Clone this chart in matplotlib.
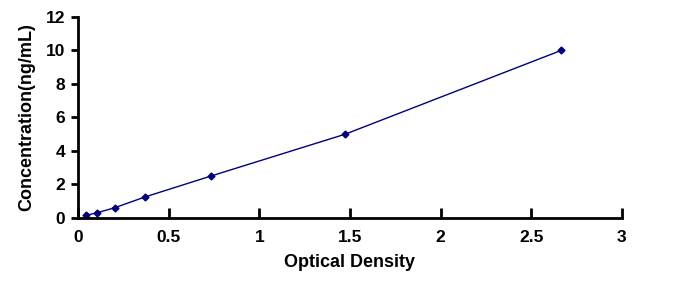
import numpy as np
import matplotlib.pyplot as plt

od = [0.042, 0.106, 0.206, 0.368, 0.732, 1.473, 2.664]
conc = [0.156, 0.312, 0.625, 1.25, 2.5, 5, 10]
xticks = [0, 0.5, 1, 1.5, 2, 2.5, 3]
yticks = [0, 2, 4, 6, 8, 10, 12]

plt.rcParams['font.family'] = ['Liberation Sans', 'DejaVu Sans']
plt.rcParams['font.weight'] = 'bold'

fig = plt.figure(figsize=(6.98, 2.83), dpi=100)
ax = fig.add_axes([0.1117, 0.2297, 0.7793, 0.7103])

ax.plot(od, conc, color='#000080', linewidth=1, marker='D', markersize=3.5,
        markerfacecolor='#000080', markeredgecolor='#000080', clip_on=False)

ax.set_xlim(0, 3)
ax.set_ylim(0, 12)
ax.set_xticks(xticks)
ax.set_xticklabels(['0', '0.5', '1', '1.5', '2', '2.5', '3'])
ax.set_yticks(yticks)

for side in ['top', 'right']:
    ax.spines[side].set_visible(False)
for side in ['left', 'bottom']:
    ax.spines[side].set_linewidth(2)

ax.tick_params(axis='x', direction='in', length=7, width=2, pad=9, labelsize=12.5)
ax.tick_params(axis='y', direction='out', length=5, width=2, pad=4, labelsize=12.5)
for lab in ax.get_xticklabels() + ax.get_yticklabels():
    lab.set_fontweight('bold')

ax.set_xlabel('Optical Density', fontsize=13, fontweight='bold', labelpad=6)
ax.set_ylabel('Concentration(ng/mL)', fontsize=13, fontweight='bold', labelpad=8)

fig.savefig('out.png', dpi=100)
